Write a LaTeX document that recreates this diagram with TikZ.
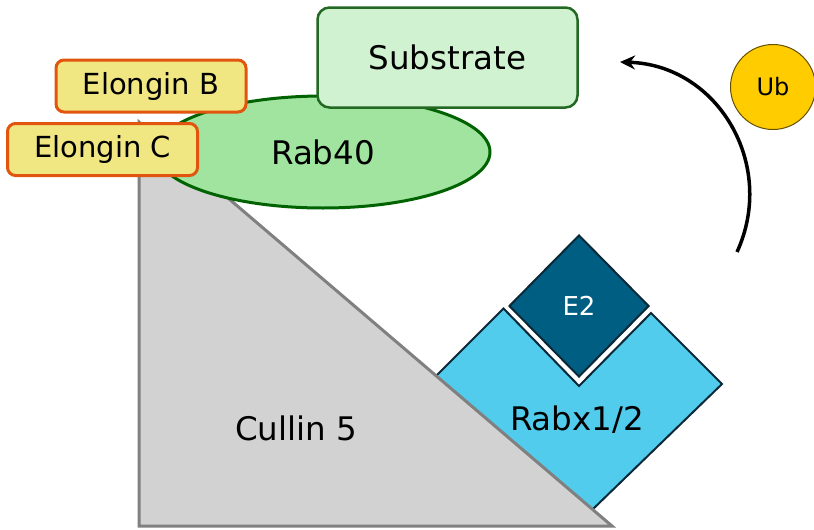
\documentclass[tikz,border=0pt]{standalone}
\usepackage{tikz}
\usepackage{xcolor}
\usepackage{fontspec}
\setmainfont{DejaVu Sans}
\usetikzlibrary{arrows.meta, shapes.geometric, positioning}
\definecolor{cullinfill}{RGB}{210,210,210}
\definecolor{cullinedge}{RGB}{128,128,128}
\definecolor{rabfill}{RGB}{160,228,160}
\definecolor{rabedge}{RGB}{0,98,0}
\definecolor{subfill}{RGB}{208,242,208}
\definecolor{subedge}{RGB}{35,105,35}
\definecolor{elofill}{RGB}{240,230,130}
\definecolor{eloedge}{RGB}{225,85,15}
\definecolor{rbxfill}{RGB}{82,204,236}
\definecolor{rbxedge}{RGB}{10,40,55}
\definecolor{etwofill}{RGB}{0,94,130}
\definecolor{ubfill}{RGB}{255,204,0}
\definecolor{ubedge}{RGB}{100,80,0}

\begin{document}
\begin{tikzpicture}[x=1pt, y=-1pt,
    elobox/.style={draw=eloedge, fill=elofill, line width=3pt, rounded corners=8pt,
                   minimum width=190pt, minimum height=52pt,
                   font=\fontsize{29}{34}\selectfont},
    lbl/.style={font=\fontsize{32.5}{38}\selectfont},
    arcarrow/.style={-{Stealth[length=15pt,width=14pt]}, line width=3.5pt}
  ]
    \useasboundingbox (0,0) rectangle (814,530);

    % Rbx1/2 sits behind the cullin
    \draw[fill=rbxfill, draw=rbxedge, line width=2pt]
      (436,376) -- (503.5,308.5) -- (579,386) -- (651,313) -- (722,384) -- (592,510) -- cycle;
    \node[diamond, draw=rbxedge, fill=etwofill, line width=2pt, inner sep=0pt,
          minimum width=140pt, minimum height=142pt, text=white,
          font=\fontsize{26}{30}\selectfont] (etwo) at (579,306) {E2};
    \node[lbl] (rbx) at (577,420) {Rabx1/2};

    \draw[fill=cullinfill, draw=cullinedge, line width=3pt]
      (139,122) -- (139,526) -- (612,526) -- cycle;
    \node[lbl] (cul) at (296,428) {Cullin 5};

    \node[ellipse, draw=rabedge, fill=rabfill, line width=3pt,
          minimum width=334pt, minimum height=112pt, lbl] (rab) at (323,152) {Rab40};
    \node[draw=subedge, fill=subfill, line width=2.5pt, rounded corners=12pt,
          minimum width=260pt, minimum height=100pt, lbl] (sub) at (447.5,57.5) {Substrate};

    \node[elobox] (elob) at (151,86) {Elongin B};
    \node[elobox] (eloc) at (102.5,149.5) {Elongin C};

    \node[circle, draw=ubedge, fill=ubfill, line width=1pt, minimum size=85pt,
          font=\fontsize{24}{28}\selectfont] (ub) at (773,87) {Ub};

    \coordinate (arcstart) at (737,252);
    \coordinate (arcend) at (620,62);
    \draw[arcarrow] (arcstart) .. controls (777,165) and (718,65) .. (arcend);
  \end{tikzpicture}
\end{document}
